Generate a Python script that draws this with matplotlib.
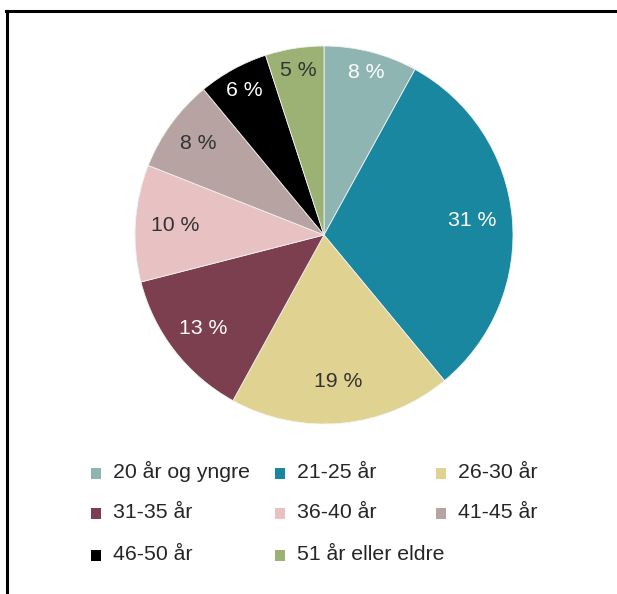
import numpy as np
import matplotlib
matplotlib.use('Agg')
import matplotlib.pyplot as plt
from matplotlib.lines import Line2D
from matplotlib.patches import Rectangle

plt.rcParams['font.family'] = ['Liberation Sans', 'DejaVu Sans']

# data
categories = ['20 år og yngre', '21-25 år', '26-30 år', '31-35 år',
              '36-40 år', '41-45 år', '46-50 år', '51 år eller eldre']
shares = [8, 31, 19, 13, 10, 8, 6, 5]
labels = ['8 %', '31 %', '19 %', '13 %', '10 %', '8 %', '6 %', '5 %']

colors = ['#8fb5b2', '#1a87a0', '#e0d291', '#7b3f50',
          '#e8c2c2', '#b8a3a3', '#000000', '#9bb274']
label_colors = ['white', 'white', '#333333', 'white',
                '#333333', '#333333', 'white', '#333333']
label_dist = [0.89, 0.79, 0.78, 0.81, 0.79, 0.82, 0.87, 0.88]

W, H = 617, 594
fig = plt.figure(figsize=(W / 100, H / 100), dpi=100)

# pie axes: centre (324, 235) px, radius 189 px
cx, cy, r = 324, 235, 189
ax = fig.add_axes([(cx - r) / W, (H - cy - r) / H, 2 * r / W, 2 * r / H])
wedges, _ = ax.pie(shares, colors=colors, startangle=90, counterclock=False,
                   radius=1, wedgeprops=dict(linewidth=0.6, edgecolor='#f2f2f2'))
ax.set_xlim(-1, 1)
ax.set_ylim(-1, 1)
ax.set_aspect('equal')
ax.axis('off')

for w, lab, col, d in zip(wedges, labels, label_colors, label_dist):
    ang = np.deg2rad((w.theta1 + w.theta2) / 2)
    ax.text(d * np.cos(ang), d * np.sin(ang), lab, color=col, fontsize=15.3,
            ha='center', va='center')

# legend, laid out in a 3-column grid (row by row)
col_x = [96, 280, 441]
row_base = [478, 518, 560]
for i, (cat, c) in enumerate(zip(categories, colors)):
    x = col_x[i % 3]
    yb = row_base[i // 3]
    ym = yb - 4.5
    fig.patches.append(Rectangle(((x - 5.3) / W, (H - ym - 5.3) / H), 10.6 / W, 10.6 / H,
                                 transform=fig.transFigure, facecolor=c,
                                 edgecolor='none'))
    fig.text((x + 17) / W, (H - yb) / H, cat, fontsize=15.3, color='#262626',
             ha='left', va='baseline')

# frame lines (left and top)
fig.add_artist(Line2D([7 / W, 7 / W], [0, (H - 11) / H], color='black',
                      linewidth=2.2, transform=fig.transFigure))
fig.add_artist(Line2D([6 / W, 1], [(H - 11) / H, (H - 11) / H], color='black',
                      linewidth=2.2, transform=fig.transFigure))

fig.savefig('out.png', dpi=100)
